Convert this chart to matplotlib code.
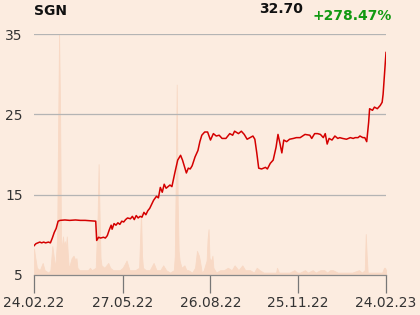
#!/usr/bin/env python3
# SGN Kursverlauf über ein Jahr mit Umsatzfläche im Hintergrund.

import matplotlib
matplotlib.use("Agg")
import matplotlib.pyplot as plt
import numpy as np
import pandas as pd

START = pd.Timestamp("2022-02-24")

# Kurs: Tage seit Start und Schlusskurs
price_days = [
    0, 2, 4, 6, 8, 10, 12, 15, 17, 19, 21, 23, 25, 27, 32, 37, 43, 48, 53, 58,
    64, 65, 67, 69, 72, 74, 76, 78, 80, 81, 83, 85, 87, 89, 91, 93, 95, 97, 100,
    102, 104, 106, 108, 110, 112, 114, 116, 118, 120, 122, 124, 127, 129, 131,
    133, 135, 137, 139, 141, 143, 146, 149, 152, 154, 158, 160, 162, 164, 167,
    170, 172, 174, 177, 180, 183, 186, 189, 192, 195, 199, 203, 206, 208, 212,
    215, 218, 221, 224, 227, 229, 231, 233, 236, 240, 242, 245, 248, 251, 253,
    255, 257, 259, 262, 265, 269, 272, 276, 281, 286, 288, 291, 294, 297, 300,
    302, 304, 306, 309, 312, 315, 317, 320, 324, 328, 331, 333, 336, 338, 341,
    343, 345, 347, 348, 351, 353, 356, 359, 361, 362, 363, 364, 365,
]
price = [
    8.64, 8.9, 9.0, 9.1, 9.0, 9.1, 9.0, 9.1, 9.0, 9.6, 10.3, 10.8, 11.7, 11.8,
    11.85, 11.8, 11.85, 11.8, 11.8, 11.75,
    11.7, 9.3, 9.7, 9.6, 9.7, 9.6, 9.9, 10.6, 11.2, 10.7, 11.4, 11.2, 11.5,
    11.3, 11.7, 11.6, 11.9, 12.1, 12.0,
    12.3, 11.9, 12.4, 12.1, 12.3, 12.2, 12.8, 12.5, 13.0, 13.3, 13.8, 14.3,
    14.8, 14.6, 15.9,
    15.3, 16.3, 15.8, 16.0, 16.2, 16.0, 17.7, 19.3, 19.9, 19.3, 17.7, 18.3,
    18.2, 18.6, 19.7,
    20.5, 21.6, 22.4, 22.8, 22.8, 21.8, 22.6, 22.3, 22.4, 22.0, 22.0, 22.6,
    22.4, 22.9, 22.6,
    22.9, 22.5, 21.9, 22.1, 22.3, 21.9, 20.2, 18.3, 18.2, 18.4, 18.2, 18.9,
    19.3, 20.9, 22.5,
    21.4, 20.2, 21.8, 21.6, 21.9, 22.0, 22.1, 22.1, 22.5, 22.4, 22.0, 22.6,
    22.6, 22.5, 22.1,
    22.6, 21.3, 22.0, 21.8, 22.3, 22.0, 22.1, 22.0, 21.9, 22.1, 22.0, 22.1,
    22.1, 22.3, 22.1,
    22.1, 21.6, 24.0, 25.7, 25.5, 25.9, 25.7, 26.1, 26.5, 27.5, 29.2, 31.0, 32.7,
]

# Umsatz: Tage seit Start und relative Höhe (Prozent der Achsenhöhe)
volume_days = [
    0, 1, 3, 6, 9, 11, 15, 17, 19, 21, 22, 24, 25, 26, 27, 28, 29, 30, 31, 32,
    33, 34, 35, 36, 37, 39, 41, 43, 44, 45, 47, 50, 53, 56, 58, 60, 64, 65, 66,
    67, 68, 69, 70, 73, 75, 77, 79, 82, 85, 89, 92, 96, 99, 102, 105, 109, 110,
    111, 112, 113, 116, 120, 124, 127, 131, 134, 137, 141, 145, 146, 147, 148,
    149, 150, 151, 153, 156, 158, 160, 164, 167, 169, 170, 171, 172, 174, 176,
    179, 180, 181, 182, 184, 185, 186, 189, 193, 197, 201, 205, 208, 212, 216,
    219, 224, 228, 231, 234, 238, 243, 248, 251, 252, 254, 260, 265, 270, 273,
    276, 281, 284, 289, 292, 297, 301, 304, 307, 310, 315, 320, 326, 330, 337,
    340, 343, 344, 345, 346, 350, 357, 361, 363, 364, 365,
]
volume = [
    11, 8, 3, 2, 5, 2, 1, 2, 12, 6, 3, 15, 60, 100, 70, 16, 10, 16, 12, 14,
    11, 16, 9, 3, 4, 7, 8, 6, 7, 3, 2, 2, 2, 2, 3, 2, 3, 14, 25,
    46, 25, 7, 4, 3, 4, 5, 3, 2, 2, 2, 3, 6, 2, 2, 2, 3, 15,
    26, 8, 3, 2, 2, 5, 2, 2, 4, 2, 1, 2, 8, 40, 79,
    30, 10, 6, 3, 4, 2, 2, 1, 3, 10, 9, 8, 6, 1, 2,
    6, 15, 19, 7, 6, 8, 3, 1, 2, 2, 3, 2, 4, 2, 4,
    2, 2, 1, 3, 2, 1, 1, 1, 1, 3, 1, 1, 1, 2, 1,
    1, 2, 1, 2, 1, 2, 2, 1, 2, 2, 1, 1, 1, 1, 2,
    1, 2, 17, 8, 1, 1, 1, 1, 3, 3, 2,
]

tick_labels = ["24.02.22", "27.05.22", "26.08.22", "25.11.22", "24.02.23"]
y_ticks = [5, 15, 25, 35]

BG = "#fcece0"
RED = "#d40000"
VOL = "#f8d9c5"
GRID = "#b4b4b4"

price_dates = START + pd.to_timedelta(price_days, unit="D")
volume_dates = START + pd.to_timedelta(volume_days, unit="D")
tick_dates = list(pd.to_datetime(tick_labels, format="%d.%m.%y"))

fig = plt.figure(figsize=(4.2, 3.15), dpi=100, facecolor=BG)
ax = fig.add_axes([34 / 420, 1 - 275 / 315, 352 / 420, 241 / 315])
ax.set_facecolor(BG)

# Umsatz auf eigener, unsichtbarer Achse
axv = ax.twinx()
axv.fill_between(volume_dates, 0, volume, color=VOL, linewidth=0.6, edgecolor=VOL)
axv.set_ylim(0, 100)
axv.set_yticks([])
for s in axv.spines.values():
    s.set_visible(False)
ax.set_zorder(axv.get_zorder() + 1)
ax.patch.set_visible(False)
axv.patch.set_facecolor(BG)

ax.plot(price_dates, price, color=RED, linewidth=1.1, zorder=3)

ax.set_ylim(5, 35)
ax.set_xlim(START, START + pd.Timedelta(days=365))
ax.set_yticks(y_ticks)
ax.set_yticklabels([str(v) for v in y_ticks])
for v in y_ticks[1:]:
    ax.axhline(v, color=GRID, linewidth=0.9, zorder=1)

ax.set_xticks(tick_dates)
ax.set_xticklabels(tick_labels)
ax.tick_params(axis="x", length=13, width=0.9, color="#777777", pad=2,
               labelsize=10, labelcolor="#333333")
ax.tick_params(axis="y", length=0, pad=8, labelsize=10, labelcolor="#333333")

for name in ("top", "right", "left"):
    ax.spines[name].set_visible(False)
ax.spines["bottom"].set_color("#888888")
ax.spines["bottom"].set_linewidth(0.9)

fig.text(34 / 420, 1 - 11 / 315, "SGN", fontsize=10, fontweight="bold",
         color="#111111", ha="left", va="center")
fig.text(303 / 420, 1 - 9 / 315, "32.70", fontsize=10, fontweight="bold",
         color="#111111", ha="right", va="center")
fig.text(312 / 420, 1 - 16 / 315, "+278.47%", fontsize=10, fontweight="bold",
         color="#119911", ha="left", va="center")

fig.savefig("out.png", dpi=100, facecolor=BG)
